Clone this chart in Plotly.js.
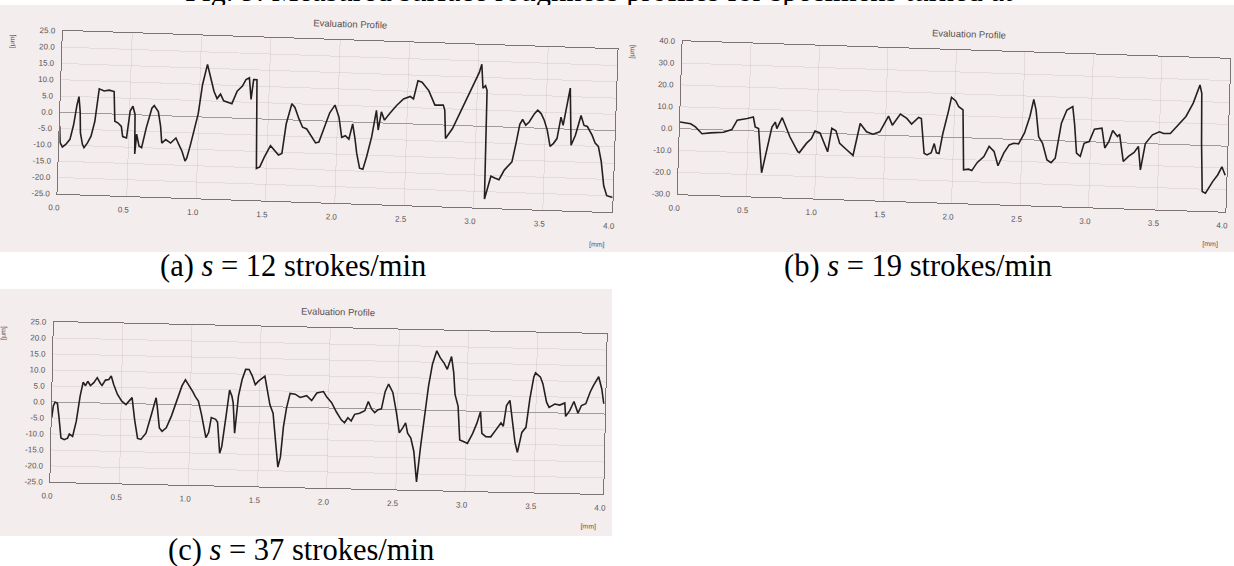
<!DOCTYPE html>
<html>
<head>
<meta charset="utf-8">
<script src="https://cdn.plot.ly/plotly-3.0.1.min.js"></script>
<style>
  html, body { margin:0; padding:0; background:#ffffff; width:1234px; height:566px; overflow:hidden; }
  .photo { position:absolute; background:#f4eded; }
  .chart { position:absolute; }
  .cap { position:absolute; font-family:"Liberation Serif","Times New Roman",serif; font-size:30.5px; line-height:30.5px; color:#000; white-space:nowrap; }
  .cap i { font-style:italic; }
</style>
</head>
<body>
<div class="cap" style="left:185px; top:-24px;">Fig. 9. Measured surface roughness profiles for specimens turned at</div>
<div class="photo" style="left:0; top:5px; width:1234px; height:247px;"></div>
<div class="photo" style="left:0; top:289px; width:612px; height:247px;"></div>

<div id="chartA" class="chart"></div>
<div id="chartB" class="chart"></div>
<div id="chartC" class="chart"></div>

<div class="cap" style="left:160px; top:251px;">(a) <i>s</i> = 12 strokes/min</div>
<div class="cap" style="left:784px; top:251px;">(b) <i>s</i> = 19 strokes/min</div>
<div class="cap" style="left:168px; top:535px;">(c) <i>s</i> = 37 strokes/min</div>

<script>
// ---------- tick labels ----------
const xTickVals = [0, 0.5, 1, 1.5, 2, 2.5, 3, 3.5, 4];
const xTickText = ["0.0", "0.5", "1.0", "1.5", "2.0", "2.5", "3.0", "3.5", "4.0"];
const yTickValsAC = [25, 20, 15, 10, 5, 0, -5, -10, -15, -20, -25];
const yTickTextAC = ["25.0", "20.0", "15.0", "10.0", "5.0", "0.0", "-5.0", "-10.0", "-15.0", "-20.0", "-25.0"];
const yTickValsB = [40, 30, 20, 10, 0, -10, -20, -30];
const yTickTextB = ["40.0", "30.0", "20.0", "10.0", "0.0", "-10.0", "-20.0", "-30.0"];

const chartTitle = "Evaluation Profile";
const yUnit = "[\u03bcm]";
const xUnit = "[mm]";

// ---------- (a) s = 12 strokes/min : position [mm], height [um] ----------
const xA = [0, 0.007, 0.024, 0.048, 0.077, 0.1, 0.12, 0.132, 0.144, 0.151, 0.168, 0.18, 0.204, 0.228, 0.252, 0.276, 0.312, 0.348, 0.384, 0.396, 0.42, 0.444, 0.456, 0.484, 0.504, 0.523, 0.54, 0.547, 0.556, 0.576, 0.595, 0.624, 0.66, 0.676, 0.707, 0.727, 0.739, 0.767, 0.803, 0.84, 0.863, 0.887, 0.911, 0.923, 0.947, 0.971, 0.995,
  1.019, 1.05, 1.074, 1.103, 1.127, 1.151, 1.175, 1.21, 1.235, 1.27, 1.307, 1.331, 1.355, 1.372, 1.386, 1.41, 1.427, 1.451, 1.482, 1.523, 1.554, 1.583, 1.607, 1.631, 1.667, 1.69, 1.722, 1.75, 1.78, 1.81, 1.847, 1.871, 1.906, 1.942, 1.978, 2.01, 2.034, 2.06, 2.086, 2.11, 2.13, 2.146, 2.17, 2.194, 2.218, 2.25, 2.278, 2.295, 2.314, 2.338, 2.374, 2.422, 2.47, 2.518, 2.542, 2.57, 2.6, 2.65, 2.698, 2.758, 2.77,
  2.782, 2.83, 2.878, 2.926, 2.974, 3.01, 3.026, 3.04, 3.058, 3.07, 3.077, 3.094, 3.118, 3.146, 3.177, 3.213, 3.242, 3.266, 3.29, 3.314, 3.333, 3.357, 3.381, 3.417, 3.44, 3.465, 3.489, 3.513, 3.537, 3.561, 3.585, 3.609, 3.626, 3.645, 3.669, 3.688, 3.717, 3.753, 3.777, 3.801, 3.837, 3.861, 3.885, 3.909, 3.933, 3.957, 4.0];
const yA = [-4.2, -9.3, -10.6, -9.8, -8.2, -3.7, 2.5, 5.0, 0.5, -6.1, -9.6, -10.6, -9.1, -7.0, -2.4, 7.6, 7.0, 7.3, 6.9, -2.2, -2.7, -3.7, -6.8, -7.2, 1.1, 2.6, 0.1, -12.0, -5.9, -9.5, -10.0, -3.9, 2.2, 3.0, 1.2, -3.3, -8.4, -7.3, -8.3, -6.7, -8.7, -10.7, -13.7, -12.7, -8.5, -3.5, 1.0,
  9.9, 16.2, 12.5, 8.0, 5.8, 7.2, 5.2, 4.7, 4.4, 8.3, 9.9, 11.9, 12.5, 5.9, 12.0, 12.0, -15.2, -14.7, -11.6, -8.1, -9.6, -10.9, -10.4, -1.3, 5.0, 3.9, 0.4, -2.1, -2.6, -4.6, -6.8, -6.5, -2.0, 2.6, 5.0, 1.3, -4.8, -4.3, -5.3, -0.6, -5.1, -9.6, -14.1, -14.4, -10.5, -4.3, 3.8, -2.2, 3.4, 0.9, 3.0, 5.5, 7.6, 8.4, 7.7, 13.3, 12.9, 10.4, 6.0, 6.1, 4.6,
  -4.1, -1.0, 3.6, 8.3, 12.9, 16.5, 19.0, 11.7, 12.5, 11.0, -22.3, -19.3, -15.2, -15.7, -16.2, -13.2, -11.7, -10.6, -5.1, 1.0, 2.5, 0.8, 1.8, 4.4, 5.5, 4.5, 2.5, -0.5, -5.5, -4.5, -3.0, 3.6, 1.1, 5.7, 12.6, -4.9, -1.8, 4.3, 1.3, 1.0, -1.6, -4.0, -5.0, -9.5, -17.0, -20.0, -20.5];

// ---------- (b) s = 19 strokes/min ----------
const xB = [0, 0.078, 0.114, 0.163, 0.223, 0.32, 0.38, 0.417, 0.49, 0.534, 0.55, 0.575, 0.607, 0.636, 0.672, 0.696, 0.708, 0.745, 0.77, 0.805, 0.866, 0.878, 0.927, 0.963, 0.987, 1.024, 1.084, 1.109, 1.14, 1.17, 1.218, 1.254, 1.27, 1.315, 1.363, 1.41, 1.46, 1.52, 1.55, 1.606, 1.654, 1.69, 1.74, 1.76,
  1.77, 1.788, 1.81, 1.84, 1.86, 1.878, 1.897, 1.92, 1.957, 1.975, 2.006, 2.03, 2.062, 2.08, 2.116, 2.14, 2.177, 2.225, 2.261, 2.298, 2.33, 2.37, 2.407, 2.44, 2.475, 2.516, 2.552, 2.576, 2.595, 2.62, 2.65, 2.686, 2.717, 2.746, 2.783, 2.82, 2.862, 2.88, 2.9, 2.928, 2.953, 2.99,
  3.025, 3.08, 3.105, 3.134, 3.159, 3.195, 3.21, 3.243, 3.28, 3.32, 3.35, 3.37, 3.4, 3.45, 3.5, 3.53, 3.58, 3.64, 3.69, 3.74, 3.785, 3.8, 3.81, 3.826, 3.85, 3.9, 3.935, 3.964, 3.99];
const yB = [3.0, 2.4, 1.0, -2.0, -1.5, -1.0, 0.3, 4.7, 5.6, 6.4, 1.9, 1.2, -19.0, -10.1, 2.1, 4.4, 1.4, 6.5, 3.1, -2.1, -8.8, -9.2, -4.9, -2.6, 0.9, 0.1, -8.4, 2.4, 1.3, -4.4, -7.0, -8.8, -9.7, 5.0, 1.3, 0.3, 1.5, 8.8, 4.7, 9.9, 8.0, 5.5, 8.6, 8.2,
  2.1, -7.7, -8.4, -7.3, -3.1, -7.3, -7.6, 1.5, 12.2, 18.3, 16.8, 14.1, 12.7, -14.7, -14.3, -14.9, -11.2, -8.3, -3.6, -5.8, -12.3, -6.3, -2.6, -1.8, -2.0, 3.1, 10.8, 18.6, 13.7, 1.6, -1.4, -8.9, -10.1, -8.0, 8.1, 14.2, 15.9, 7.5, -5.4, -6.8, -0.8, 0.1,
  5.8, 6.4, -2.6, 0.5, 5.5, 2.8, 3.9, -8.5, -6.1, -4.2, -1.4, -12.1, 0.0, 4.1, 5.6, 4.9, 5.0, 9.1, 13.0, 19.2, 27.6, 23.8, 1.0, -21.1, -21.8, -16.4, -13.3, -9.5, -13.3];

// ---------- (c) s = 37 strokes/min ----------
const xC = [0, 0.01, 0.022, 0.039, 0.053, 0.07, 0.094, 0.118, 0.13, 0.154, 0.178, 0.202, 0.222, 0.239, 0.255, 0.275, 0.299, 0.323, 0.347, 0.359, 0.383, 0.407, 0.424, 0.443, 0.472, 0.504, 0.535, 0.564, 0.578, 0.6, 0.624, 0.648, 0.684, 0.72, 0.752, 0.761, 0.78, 0.8, 0.83, 0.865, 0.9, 0.937, 0.961, 0.993,
  1.017, 1.034, 1.058, 1.082, 1.099, 1.118, 1.137, 1.154, 1.186, 1.2, 1.22, 1.234, 1.263, 1.282, 1.3, 1.31, 1.325, 1.347, 1.371, 1.395, 1.42, 1.443, 1.467, 1.49, 1.535, 1.552, 1.576, 1.6, 1.624, 1.643, 1.66, 1.677, 1.696, 1.72, 1.757, 1.793, 1.84, 1.877, 1.913, 1.961, 1.986,
  2.022, 2.058, 2.094, 2.118, 2.142, 2.166, 2.19, 2.226, 2.263, 2.287, 2.311, 2.335, 2.359, 2.383, 2.407, 2.431, 2.463, 2.492, 2.516, 2.54, 2.56, 2.576, 2.6, 2.624, 2.648, 2.672, 2.696, 2.72, 2.745, 2.774, 2.8, 2.829, 2.853, 2.882, 2.9, 2.913, 2.937, 2.954, 2.985,
  3.01, 3.046, 3.075, 3.1, 3.113, 3.142, 3.178, 3.214, 3.25, 3.267, 3.287, 3.311, 3.33, 3.354, 3.373, 3.402, 3.431, 3.455, 3.48, 3.492, 3.528, 3.547, 3.576, 3.595, 3.636, 3.672, 3.708, 3.716, 3.745, 3.774, 3.805, 3.829, 3.86, 3.89, 3.913, 3.949, 3.973, 3.99];
const yC = [-4.9, -1.2, 0.0, -0.4, -4.9, -11.2, -11.7, -11.2, -9.9, -10.6, -5.9, 2.0, 6.4, 5.3, 6.7, 5.4, 6.3, 7.9, 6.1, 5.5, 7.2, 7.4, 8.5, 5.9, 2.8, 0.7, -0.3, 1.3, 1.9, -5.0, -10.8, -11.1, -9.1, -3.3, 2.0, -0.6, -7.4, -8.4, -7.3, -3.6, 1.2, 5.9, 7.8, 5.9,
  4.1, 2.7, 1.3, -2.8, -5.9, -10.1, -8.5, -3.8, -4.3, -5.2, -14.9, -12.8, -2.3, 4.9, 3.0, 0.9, -8.5, 3.1, 8.3, 11.5, 11.5, 9.6, 6.8, 7.9, 9.5, 5.3, 0.6, -2.0, -12.5, -18.8, -15.7, -6.2, -0.4, 4.3, 4.1, 3.1, 3.7, 2.2, 4.6, 5.1, 3.4,
  1.7, -1.2, -3.6, -4.5, -2.9, -3.9, -1.8, -1.4, -0.6, 2.3, 0.0, -1.1, -0.2, 0.1, 5.5, 7.9, 5.3, -1.0, -7.3, -5.7, -4.1, -7.3, -8.8, -13.0, -22.5, -11.4, -2.5, 7.5, 14.4, 18.6, 16.5, 14.8, 12.9, 16.9, 11.9, 5.1, 1.4, -9.1, -9.6,
  -10.1, -7.0, -3.8, -0.1, -6.9, -7.9, -7.9, -5.7, -3.5, -4.5, 2.0, 3.6, -2.1, -9.5, -12.6, -6.3, -4.7, 4.3, 11.1, 12.4, 11.1, 9.0, 3.3, 1.7, 2.8, 2.5, 3.2, -1.0, 0.8, 3.7, 0.1, 2.5, 3.1, 6.8, 8.9, 11.6, 7.9, 3.2];

// ---------- drawing ----------
const M = { l: 60, r: 20, t: 32, b: 48 };
const tickFont = { family: "Liberation Sans, Arial, sans-serif", size: 8, color: "#5a5454" };
const frameColor = "#7a7474";
const gridColor = "rgba(150,125,125,0.16)";

function drawProfile(id, x, y, yVals, yText, yRange, box) {
  const W = M.l + box.pw + M.r;
  const H = M.t + box.ph + M.b;
  const el = document.getElementById(id);
  el.style.width = W + "px";
  el.style.height = H + "px";
  el.style.left = (box.cx - (M.l + box.pw / 2)) + "px";
  el.style.top = (box.cy - (M.t + box.ph / 2)) + "px";
  el.style.transformOrigin = (M.l + box.pw / 2) + "px " + (M.t + box.ph / 2) + "px";
  el.style.transform = "rotate(" + box.rot + "deg)";

  const trace = {
    x: x, y: y, type: "scatter", mode: "lines",
    line: { color: "#252020", width: 1.6 },
    hoverinfo: "skip"
  };
  const layout = {
    width: W, height: H,
    margin: { l: M.l, r: M.r, t: M.t, b: M.b, pad: 0 },
    paper_bgcolor: "rgba(0,0,0,0)",
    plot_bgcolor: "rgba(0,0,0,0)",
    showlegend: false,
    xaxis: {
      range: [0, 4], tickmode: "array", tickvals: xTickVals, ticktext: xTickText,
      showline: true, mirror: true, linecolor: frameColor, linewidth: 1,
      showgrid: true, gridcolor: gridColor, gridwidth: 1, zeroline: false,
      ticks: "outside", ticklen: 6, tickcolor: "rgba(0,0,0,0)",
      ticklabelshift: -3,
      tickfont: tickFont, fixedrange: true
    },
    yaxis: {
      range: yRange, tickmode: "array", tickvals: yVals, ticktext: yText,
      showline: true, mirror: true, linecolor: frameColor, linewidth: 1,
      showgrid: true, gridcolor: gridColor, gridwidth: 1,
      zeroline: true, zerolinecolor: "#a09a9a", zerolinewidth: 1,
      ticks: "outside", ticklen: 5, tickcolor: "rgba(0,0,0,0)",
      tickfont: tickFont, fixedrange: true
    },
    annotations: [
      { text: chartTitle, xref: "paper", yref: "paper", x: box.titleX, y: 1,
        xanchor: "center", yanchor: "middle", yshift: 17, showarrow: false,
        font: { family: "Liberation Sans, Arial, sans-serif", size: 9.5, color: "#575151" } },
      { text: yUnit, xref: "paper", yref: "paper", x: 0, y: 1, xshift: -50, yshift: -12,
        xanchor: "center", yanchor: "middle", textangle: -90, showarrow: false,
        font: { family: "Liberation Sans, Arial, sans-serif", size: 7, color: "#575151" } },
      { text: xUnit, xref: "paper", yref: "paper", x: 1, y: 0, xshift: -14, yshift: -33,
        xanchor: "center", yanchor: "middle", showarrow: false,
        font: { family: "Liberation Sans, Arial, sans-serif", size: 7, color: "#575151" } }
    ]
  };
  Plotly.newPlot(el, [trace], layout, { staticPlot: true, displayModeBar: false });
}

drawProfile("chartA", xA, yA, yTickValsAC, yTickTextAC, [-25, 25],
  { cx: 337, cy: 121.7, pw: 555, ph: 163, rot: 1.9, titleX: 0.518 });
drawProfile("chartB", xB, yB, yTickValsB, yTickTextB, [-30, 40],
  { cx: 954.3, cy: 126.7, pw: 548, ph: 152.5, rot: 1.84, titleX: 0.521 });
drawProfile("chartC", xC, yC, yTickValsAC, yTickTextAC, [-25, 25],
  { cx: 328, cy: 407.9, pw: 553, ph: 159.5, rot: 1.25, titleX: 0.514 });
</script>
</body>
</html>
